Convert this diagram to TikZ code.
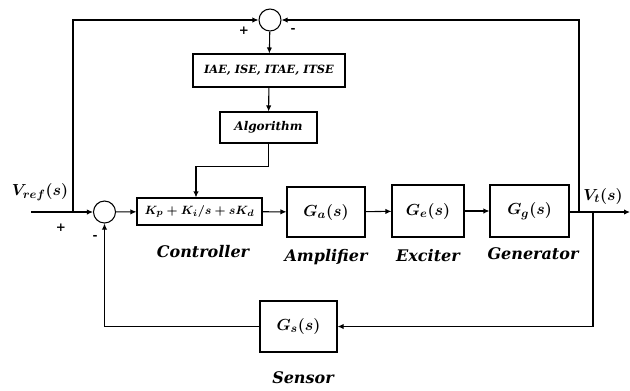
\documentclass[tikz,border=0pt]{standalone}
\usepackage{fontspec}
\setmainfont{DejaVu Serif}
\usetikzlibrary{arrows.meta}
\begin{document}
\begin{tikzpicture}[x=0.75pt,y=-0.75pt,
  line width=0.8pt,
  arr/.style={-{Latex[length=4.5pt,width=4pt]}},
  blk/.style={draw,rectangle,inner sep=0pt},
  sumc/.style={draw,circle,minimum size=16.5pt,inner sep=0pt},
  lbl/.style={font=\fontsize{12}{14}\selectfont\bfseries\itshape},
  mth/.style={font=\fontsize{13}{15}\selectfont\boldmath},
  sgn/.style={font=\fontsize{9}{10}\selectfont\bfseries}]
\useasboundingbox (0,0) rectangle (630,390);
% blocks
\node[sumc] (s1) at (270,20) {};
\node[blk,minimum width=114pt,minimum height=24.75pt,font=\fontsize{8.5}{11}\selectfont\bfseries\itshape] (iae) at (269,70.5) {IAE, ISE, ITAE, ITSE};
\node[blk,minimum width=72.75pt,minimum height=23.25pt,font=\fontsize{9}{11}\selectfont\bfseries\itshape] (alg) at (268.5,127.5) {Algorithm};
\node[sumc] (s2) at (104.5,212) {};
\node[blk,minimum width=93.75pt,minimum height=20.25pt,font=\fontsize{9.5}{12}\selectfont\boldmath] (ctrl) at (199.5,211.5) {$K_p + K_i/s + sK_d$};
\node[blk,minimum width=58.5pt,minimum height=37.5pt,mth] (amp) at (326,212) {$G_a(s)$};
\node[blk,minimum width=54pt,minimum height=39pt,mth] (exc) at (428,211) {$G_e(s)$};
\node[blk,minimum width=59.25pt,minimum height=39pt,mth] (gen) at (529.5,211) {$G_g(s)$};
\node[blk,minimum width=57.75pt,minimum height=38.25pt,mth] (sen) at (298.5,326.5) {$G_s(s)$};
% labels
\node[lbl] (lc) at (203,252) {Controller};
\node[lbl] (la) at (326,257) {Amplifier};
\node[lbl] (le) at (428,256) {Exciter};
\node[lbl] (lg) at (533,254) {Generator};
\node[lbl] (ls) at (303,378) {Sensor};
\node[mth] (vref) at (40,192) {$V_{ref}(s)$};
\node[mth] (vt) at (603,196) {$V_t(s)$};
\node[sgn] (p1) at (244,31) {+};
\node[sgn] (m1) at (293,30) {-};
\node[sgn] (p2) at (61,228) {+};
\node[sgn] (m2) at (95,237) {-};
% coordinates
\coordinate (in) at (31,212);
\coordinate (tapL) at (73,212);
\coordinate (out) at (630,212);
\coordinate (tapR) at (579,212);
\coordinate (tapS) at (593,212);
% connectors
\draw[arr] (in) -- (s2);
\draw[arr] (tapL) |- (s1);
\draw[arr] (tapR) |- (s1);
\draw[arr] (s1) -- (iae);
\draw[arr] (iae) -- (alg);
\draw[arr] (alg.south) -- ++(0,23) -| (ctrl.north -| 196,0);
\draw[arr] (s2) -- (ctrl);
\draw[arr] (ctrl) -- (amp);
\draw[arr] (amp) -- (exc);
\draw[arr] (exc) -- (gen);
\draw[arr] (gen.east |- out) -- (out);
\draw[arr] (tapS) |- (sen);
\draw[arr] (sen) -| (s2);
\end{tikzpicture}
\end{document}
